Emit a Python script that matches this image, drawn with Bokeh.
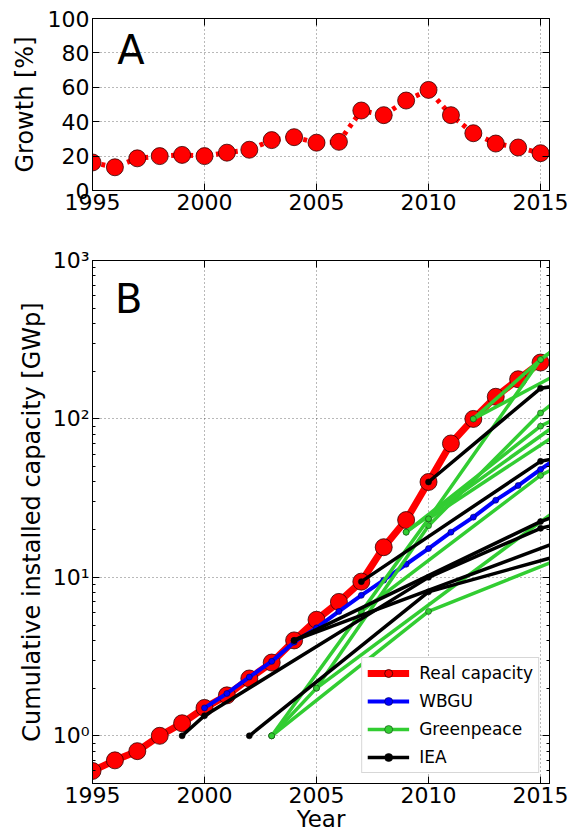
from bokeh.plotting import figure
from bokeh.models import (Range1d, LinearAxis, LogAxis, FixedTicker, CustomJSTickFormatter,
                          Legend, LegendItem, Label)
from bokeh.layouts import column
from bokeh.embed import file_html
from bokeh.resources import INLINE

# ---------------- data ----------------
years = list(range(1995, 2016))
growth = [16.3, 13.5, 18.7, 20.0, 20.7, 20.0, 22.0, 23.7, 29.3, 31.0, 27.8,
          28.3, 46.5, 43.8, 52.3, 58.5, 43.8, 33.3, 27.3, 25.0, 21.7]
capacity = [0.6, 0.7, 0.8, 1.0, 1.2, 1.5, 1.8, 2.3, 2.9, 4.0, 5.4,
            7.0, 9.4, 15.5, 23, 40, 70, 100, 138, 178, 227]

wbgu_years = list(range(2000, 2017))
wbgu_vals = [1.5, 1.85, 2.35, 2.95, 3.9, 4.8, 6.1, 7.7, 9.6, 12.1, 15.2,
             19.3, 24, 30.7, 38, 48, 60]

gp_years = [[2003, 2010, 2020], [2003, 2005, 2010, 2015, 2020], [2003, 2010, 2015, 2020],
            [2005, 2020], [2007, 2015, 2020], [2009, 2015, 2020], [2009, 2020],
            [2010, 2020], [2012, 2015, 2020], [2012, 2020]]
gp_vals = [[1.0, 6.1, 22.4], [1.0, 2.0, 21.2, 109, 400], [1.0, 23.4, 237, 800],
           [2.0, 75], [6.1, 44, 100], [19.3, 90, 200], [19.3, 250],
           [23.4, 200], [100, 237, 800], [100, 400]]

iea_years = [[1999, 2000, 2010, 2015, 2020], [2002, 2010, 2020], [2004, 2015, 2020],
             [2004, 2020], [2007, 2015, 2020], [2010, 2015, 2020]]
iea_vals = [[1.0, 1.34, 10.0, 20.4, 30], [1.0, 8.1, 20], [4.0, 22.5, 40],
            [4.0, 28], [9.4, 54, 75], [40, 156, 200]]

x_ticks = [1995, 2000, 2005, 2010, 2015]
a_ticks = [0, 20, 40, 60, 80, 100]
b_ticks = [1, 10, 100, 1000]
b_minor = [m * 10.0 ** k for k in range(-1, 3) for m in range(2, 10)]

FONT = "DejaVu Sans"
RED = "#ff0000"
BLUE = "#0000ff"
GREEN = "#32cd32"
BLACK = "#000000"


def style_axis(ax):
    ax.major_label_text_font = FONT
    ax.major_label_text_font_size = "22px"
    ax.major_label_text_color = "black"
    ax.axis_label_text_font = FONT
    ax.axis_label_text_font_size = "24px"
    ax.axis_label_text_font_style = "normal"
    ax.axis_label_text_color = "black"
    ax.major_tick_in = 7
    ax.major_tick_out = 0
    ax.minor_tick_in = 3
    ax.minor_tick_out = 0
    ax.major_tick_line_color = "black"
    ax.minor_tick_line_color = "black"
    ax.axis_line_color = "black"
    ax.major_label_standoff = 3


def style(p):
    for ax in p.axis:
        style_axis(ax)
    p.outline_line_color = "black"
    p.outline_line_width = 1
    p.outline_line_alpha = 0.8
    for g in p.grid:
        g.grid_line_color = "black"
        g.grid_line_alpha = 0.55
        g.grid_line_dash = "1 3"
        g.grid_line_width = 1
    p.background_fill_color = "white"
    p.border_fill_color = "white"


blank_js = "return '';"


def add_mirror_axes(p, xticker, yticker, log_y=False):
    top = LinearAxis(ticker=xticker, formatter=CustomJSTickFormatter(code=blank_js))
    style_axis(top)
    top.major_label_text_font_size = "1px"
    top.major_label_standoff = 0
    p.add_layout(top, "above")
    if log_y:
        right = LogAxis(ticker=yticker, formatter=CustomJSTickFormatter(code=blank_js))
    else:
        right = LinearAxis(ticker=yticker, formatter=CustomJSTickFormatter(code=blank_js))
    style_axis(right)
    right.major_label_text_font_size = "1px"
    right.major_label_standoff = 0
    p.add_layout(right, "right")


# ---------------- panel A ----------------
pA = figure(width=569, height=225, x_range=Range1d(1995, 2015.4), y_range=Range1d(0, 100),
            output_backend="svg", toolbar_location=None,
            min_border_left=92, min_border_right=20, min_border_top=18, min_border_bottom=35)
pA.xaxis.ticker = FixedTicker(ticks=x_ticks)
pA.yaxis.ticker = FixedTicker(ticks=a_ticks)
pA.yaxis.axis_label = "Growth [%]"
style(pA)
pA.yaxis.axis_label_standoff = 6
add_mirror_axes(pA, FixedTicker(ticks=x_ticks), FixedTicker(ticks=a_ticks))
pA.line(years, growth, line_color=RED, line_width=5, line_dash="4 5")
pA.scatter(years, growth, marker="circle", size=17, fill_color=RED,
           line_color="#330000", line_width=0.8)
pA.add_layout(Label(x=1996.1, y=95, text="A", text_font=FONT, text_font_size="40px",
                    text_baseline="top", text_color="black"))

# ---------------- panel B ----------------
pB = figure(width=569, height=613, x_range=Range1d(1995, 2015.4), y_range=Range1d(0.5, 1000),
            y_axis_type="log", output_backend="svg", toolbar_location=None,
            min_border_left=92, min_border_right=20, min_border_top=35, min_border_bottom=55)
pB.xaxis.ticker = FixedTicker(ticks=x_ticks)
pB.yaxis.ticker = FixedTicker(ticks=b_ticks, minor_ticks=b_minor)
sup_js = """
const s = {'0':'\u2070','1':'\u00b9','2':'\u00b2','3':'\u00b3','-':'\u207b'};
const e = Math.round(Math.log10(tick));
return '10' + String(e).split('').map(c => s[c]).join('');
"""
pB.yaxis.formatter = CustomJSTickFormatter(code=sup_js)
pB.yaxis.axis_label = "Cumulative installed capacity [GWp]"
pB.xaxis.axis_label = "Year"
style(pB)
pB.xaxis.axis_label_text_font_size = "23px"
pB.yaxis.axis_label_standoff = 4
pB.xaxis.axis_label_standoff = 0
add_mirror_axes(pB, FixedTicker(ticks=x_ticks), FixedTicker(ticks=b_ticks, minor_ticks=b_minor), log_y=True)

red_l = pB.line(years, capacity, line_color=RED, line_width=7)
red_s = pB.scatter(years, capacity, marker="circle", size=17, fill_color=RED,
                   line_color="#330000", line_width=0.8)

blue_l = pB.line(wbgu_years, wbgu_vals, line_color=BLUE, line_width=4)
blue_s = pB.scatter(wbgu_years, wbgu_vals, marker="circle", size=6, fill_color=BLUE,
                    line_color="#000055", line_width=0.6)

gp_r = []
for xs, ys in zip(gp_years, gp_vals):
    l = pB.line(xs, ys, line_color=GREEN, line_width=3.5)
    s = pB.scatter(xs, ys, marker="circle", size=6, fill_color=GREEN,
                   line_color="#114411", line_width=0.6)
    gp_r.append((l, s))

iea_r = []
for xs, ys in zip(iea_years, iea_vals):
    l = pB.line(xs, ys, line_color=BLACK, line_width=3.5)
    s = pB.scatter(xs, ys, marker="circle", size=6, fill_color=BLACK,
                   line_color=BLACK, line_width=0.6)
    iea_r.append((l, s))

pB.add_layout(Label(x=1996.0, y=800, text="B", text_font=FONT, text_font_size="40px",
                    text_baseline="top", text_color="black"))

legend = Legend(items=[
    LegendItem(label="Real capacity", renderers=[red_l, red_s]),
    LegendItem(label="WBGU", renderers=[blue_l, blue_s]),
    LegendItem(label="Greenpeace", renderers=list(gp_r[0])),
    LegendItem(label="IEA", renderers=list(iea_r[0])),
], location="bottom_right")
legend.label_text_font = FONT
legend.label_text_font_size = "17px"
legend.label_text_color = "black"
legend.glyph_width = 42
legend.glyph_height = 20
legend.label_height = 20
legend.spacing = 8
legend.padding = 5
legend.margin = 10
legend.label_standoff = 10
legend.border_line_color = "#b0b0b0"
legend.border_line_width = 1.5
legend.background_fill_color = "white"
legend.background_fill_alpha = 1.0
pB.add_layout(legend)

layout = column(pA, pB, spacing=0)
open("out.html", "w").write(file_html(layout, INLINE))
